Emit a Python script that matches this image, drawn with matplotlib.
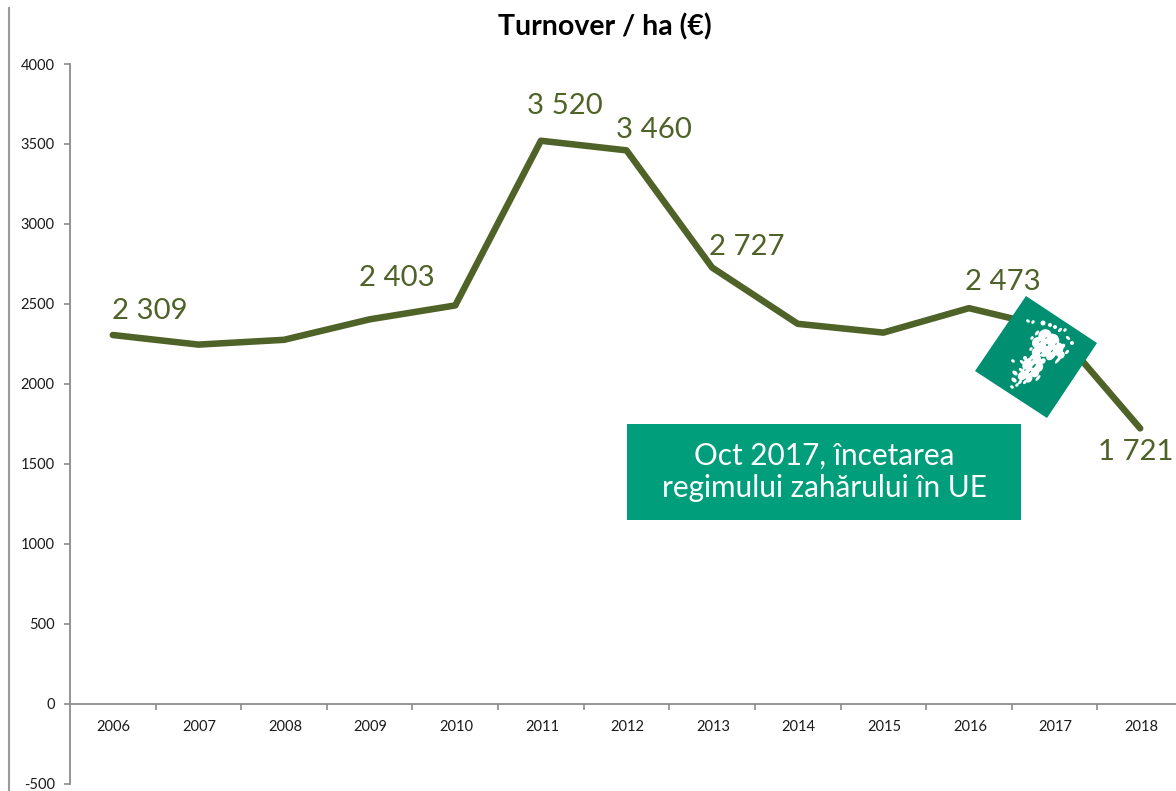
import matplotlib
matplotlib.use("Agg")
from matplotlib import pyplot as plt
from matplotlib.patches import Polygon, Rectangle, Ellipse

years = [2006, 2007, 2008, 2009, 2010, 2011, 2012, 2013, 2014, 2015, 2016, 2017, 2018]
turnover = [2305, 2245, 2275, 2403, 2490, 3520, 3460, 2727, 2375, 2320, 2473, 2345, 1721]
yticks = [-500, 0, 500, 1000, 1500, 2000, 2500, 3000, 3500, 4000]

# label text, and offset from its point in pixels
labels = {2006: ("2 309", 37, -24), 2009: ("2 403", 27, -41), 2011: ("3 520", 24, -35),
          2012: ("3 460", 27, -20), 2013: ("2 727", 35, -21), 2016: ("2 473", 34, -26),
          2018: ("1 721", -4, 24)}

GREEN = "#4f6228"
TEAL = "#009e7b"
GREY = "#8c8c8c"

# specks of the sugar picture on the diamond: x, y, w, h in image pixels
specks = [(1045, 336, 14, 13), (1038, 343, 12, 12), (1052, 341, 15, 14), (1045, 348, 19, 16),
          (1057, 349, 14, 12), (1036, 352, 9, 8), (1051, 355, 12, 8), (1061, 355, 8, 7),
          (1035, 360, 13, 12), (1029, 365, 14, 13), (1038, 367, 11, 10), (1027, 372, 14, 11),
          (1035, 373, 9, 8), (1022, 376, 9, 8), (1029, 379, 8, 6), (1043, 361, 6, 5),
          (1028, 321, 3, 4), (1033, 322, 4, 3), (1043, 323, 5, 5), (1050, 325, 4, 4),
          (1055, 327, 4, 4), (1060, 330, 5, 3), (1065, 330, 4, 3), (1068, 338, 3, 5),
          (1072, 343, 4, 4), (1067, 352, 5, 3), (1037, 333, 6, 3), (1032, 338, 4, 3),
          (1058, 360, 9, 3), (1022, 362, 3, 5), (1025, 358, 4, 4), (1013, 361, 3, 4),
          (1021, 370, 3, 5), (1015, 373, 4, 6), (1014, 380, 4, 6), (1020, 382, 5, 3),
          (1025, 382, 5, 3), (1038, 378, 7, 3), (1012, 387, 3, 4), (1017, 385, 4, 3),
          (1063, 346, 5, 4), (1031, 349, 4, 3)]
holes = [(1047, 345, 2, 2), (1052, 351, 3, 1), (1041, 353, 3, 1), (1034, 366, 5, 2), (1040, 342, 2, 1),
         (1046, 338, 2, 1), (1030, 372, 3, 1), (1056, 344, 2, 1), (1032, 360, 2, 1), (1025, 370, 2, 1)]

fig = plt.figure(figsize=(11.76, 7.91), dpi=100)
plt.rcParams['font.family'] = ['Lato', 'DejaVu Sans']

ax = fig.add_axes([70 / 1176, 1 - 783.5 / 791, (1183 - 70) / 1176, (783.5 - 64) / 791])
ax.plot(range(len(years)), turnover, color=GREEN, lw=4.7, solid_joinstyle='round',
        solid_capstyle='round', clip_on=False, zorder=3)
ax.set_xlim(-0.5, len(years) - 0.5)
ax.set_ylim(-500, 4000)
ax.set_yticks(yticks)
ax.set_yticklabels([str(v) for v in yticks], fontsize=10.5, color="#1a1a1a")
ax.tick_params(axis='y', length=4, width=1.2, color=GREY, pad=7)

ax.spines['top'].set_visible(False)
ax.spines['right'].set_visible(False)
ax.spines['bottom'].set_position(('data', 0))
ax.spines['left'].set_color(GREY)
ax.spines['bottom'].set_color(GREY)
ax.spines['left'].set_linewidth(1.3)
ax.spines['bottom'].set_linewidth(1.3)

# x ticks sit between the years, the year names below the zero line
ax.set_xticks([i - 0.5 for i in range(1, len(years))])
ax.set_xticklabels([])
ax.tick_params(axis='x', direction='out', length=4, width=1.2, color=GREY)
for i, y in enumerate(years):
    ax.annotate(str(y), (i, 0), xytext=(1, -23), textcoords='offset pixels',
                ha='center', va='center', fontsize=10.5, color="#1a1a1a")

for i, y in enumerate(years):
    if y in labels:
        txt, dx, dy = labels[y]
        ax.annotate(txt, (i, turnover[i]), xytext=(dx, -dy), textcoords='offset pixels',
                    ha='center', va='center', fontsize=21.2, color=GREEN, zorder=5,
                    annotation_clip=False)

# overlay in image pixels for the title, frame line, box and diamond
over = fig.add_axes([0, 0, 1, 1], facecolor='none')
over.set_xlim(0, 1176)
over.set_ylim(791, 0)
over.axis('off')
over.plot([8.5, 8.5], [8, 791], color="#9a9a9a", lw=1.5)
over.text(605, 27, "Turnover / ha (€)", ha='center', va='center', fontsize=20.5,
          fontweight='bold', color='black')
over.add_patch(Rectangle((627, 424), 394, 96, facecolor=TEAL, edgecolor='none'))
over.text(824, 472, "Oct 2017, încetarea\nregimului zahărului în UE", ha='center', va='center',
          fontsize=21.4, color='white', linespacing=1.2)
over.add_patch(Polygon([(1026, 296), (1097, 343), (1047, 418), (975, 371)], closed=True,
                       facecolor="#008f70", edgecolor='none'))
for x, y, w, h in specks:
    over.add_patch(Ellipse((x, y), w, h, angle=-50, facecolor='white', edgecolor='none'))
for x, y, w, h in holes:
    over.add_patch(Ellipse((x, y), w, h, angle=-50, facecolor="#008f70", edgecolor='none'))

fig.savefig('out.png', dpi=100, facecolor='white')
